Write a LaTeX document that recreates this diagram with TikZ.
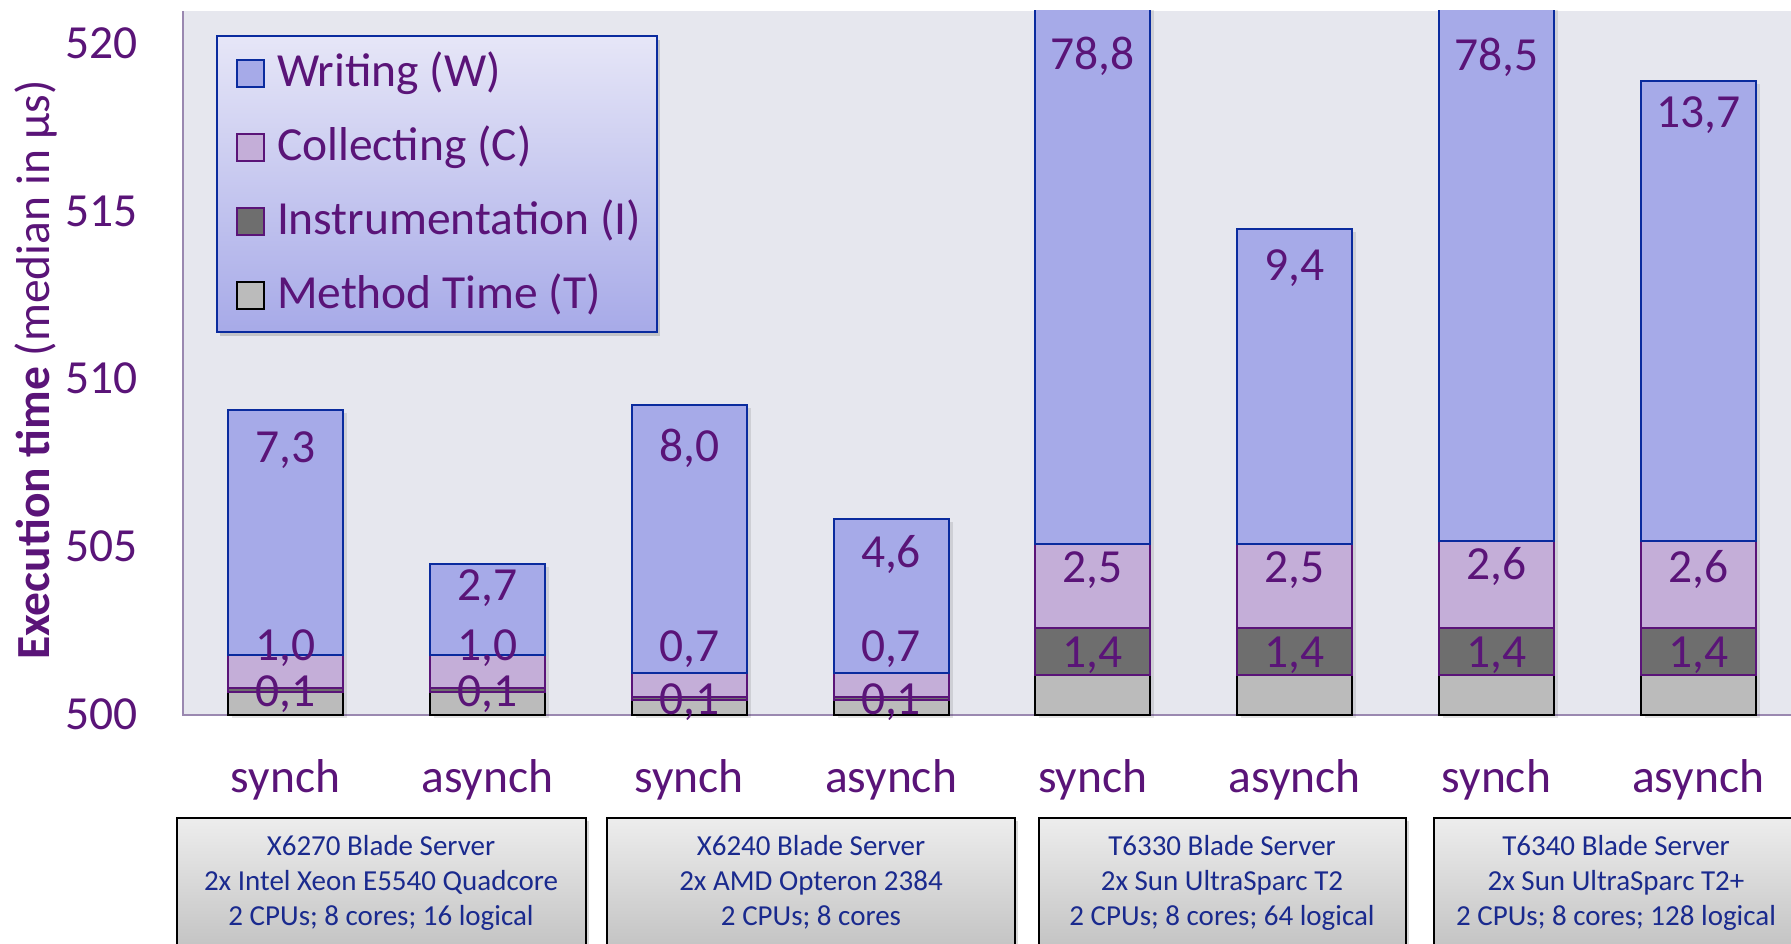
\documentclass[tikz,border=0pt]{standalone}
\usepackage{fontspec}
\setmainfont{Carlito}
\usetikzlibrary{shadows}
\definecolor{ptxt}{HTML}{5A1478}
\definecolor{ntxt}{HTML}{1A2A8E}
\definecolor{wfill}{HTML}{A6AAE8}
\definecolor{wline}{HTML}{0A2B9E}
\definecolor{cfill}{HTML}{C4AED8}
\definecolor{cline}{HTML}{5A1478}
\definecolor{ifill}{HTML}{6E6E6E}
\definecolor{tfill}{HTML}{BBBBBB}
\definecolor{plotbg}{HTML}{E6E7EE}
\definecolor{axisc}{HTML}{9A88B0}
\definecolor{legtop}{HTML}{E6E6F7}
\definecolor{legbot}{HTML}{A7AAE8}
\definecolor{srvtop}{HTML}{EDEDED}
\definecolor{srvbot}{HTML}{BDBDBD}
\tikzset{
 bigtxt/.style={text=ptxt, font=\fontsize{47.5}{57}\selectfont, inner sep=0pt, outer sep=0pt},
 srvtxt/.style={text=ntxt, font=\fontsize{29}{35}\selectfont, inner sep=0pt, anchor=base},
 tseg/.style={fill=tfill, draw=black, line width=2pt},
 iseg/.style={fill=ifill, draw=cline, line width=2pt},
 cseg/.style={fill=cfill, draw=cline, line width=2pt},
 wseg/.style={fill=wfill, draw=wline, line width=2pt},
 barshadow/.style={fill=black, opacity=0.10},
 legsq/.style={minimum size=27pt, inner sep=0pt, outer sep=0pt, line width=2pt},
 srvbox/.style={draw=black, line width=2pt, top color=srvtop, bottom color=srvbot, anchor=north west, minimum height=150pt, inner sep=0pt, outer sep=0pt, drop shadow={shadow xshift=3pt, shadow yshift=-3pt, opacity=0.3}},
}
\begin{document}
\begin{tikzpicture}[x=1pt,y=1pt]
\useasboundingbox (0,0) rectangle (1791,943);
% plot area
\fill[plotbg] (183,228) rectangle (1791,932);
\draw[axisc, line width=2pt] (183,932) -- (183,228) -- (1791,228);
% bars
\begin{scope}
\clip (182,200) rectangle (1791,932);
\begin{scope}[shift={(0,228)}, y=33.55pt]
\foreach \x/\t/\i/\c/\w in {285.6/.7/.8/1.8/9.1, 487.4/.7/.8/1.8/4.5, 689.2/.45/.55/1.25/9.25, 891.0/.45/.55/1.25/5.85, 1092.8/1.2/2.6/5.1/83.9, 1294.6/1.2/2.6/5.1/14.5, 1496.4/1.2/2.6/5.2/83.7, 1698.2/1.2/2.6/5.2/18.9}{
  \fill[barshadow, xshift=4pt, yshift=-3pt] (\x-57.5,0) rectangle (\x+57.5,\w);
  \filldraw[tseg] (\x-57.5,0) rectangle (\x+57.5,\t);
  \filldraw[iseg] (\x-57.5,\t) rectangle (\x+57.5,\i);
  \filldraw[cseg] (\x-57.5,\i) rectangle (\x+57.5,\c);
  \filldraw[wseg] (\x-57.5,\c) rectangle (\x+57.5,\w);
}
\end{scope}
\end{scope}
% value labels
\foreach \x/\wl/\wy/\cl/\cy/\il/\iy [count=\n] in {
 285.6/{7,3}/447.6/{1,0}/645.5/{0,1}/691.7,
 487.4/{2,7}/586/{1,0}/645.5/{0,1}/691.7,
 689.2/{8,0}/446.6/{0,7}/646.5/{0,1}/699,
 891.0/{4,6}/552.8/{0,7}/646.5/{0,1}/699,
 1092.8/{78,8}/55/{2,5}/568/{1,4}/652.5,
 1294.6/{9,4}/265.8/{2,5}/568/{1,4}/652.5,
 1496.4/{78,5}/56/{2,6}/565/{1,4}/652.5,
 1698.2/{13,7}/113/{2,6}/568/{1,4}/652.5}{
  \node[bigtxt, anchor=base] (lw\n) at (\x,928-\wy) {\wl};
  \node[bigtxt, anchor=base] (lc\n) at (\x,928-\cy) {\cl};
  \node[bigtxt, anchor=base] (li\n) at (\x,928-\iy) {\il};
}
% y tick labels
\foreach \v/\b in {520/884, 515/716.4, 510/549, 505/381, 500/213}{
  \node[bigtxt, anchor=base east] (tick\v) at (138,\b) {\v};
}
% y axis title
\node[bigtxt, anchor=base, rotate=90] (ytitle) at (49.5,573) {\textbf{Execution time} (median in µs)};
% category labels
\foreach \x/\lab [count=\n] in {285.6/synch, 487.4/asynch, 689.2/synch, 891.0/asynch, 1092.8/synch, 1294.6/asynch, 1496.4/synch, 1698.2/asynch}{
  \node[bigtxt, anchor=base] (cat\n) at (\x,150.5) {\lab};
}
% legend
\node[draw=wline, line width=2pt, top color=legtop, bottom color=legbot, anchor=south west, minimum width=440pt, minimum height=295.5pt, inner sep=0pt, outer sep=0pt, drop shadow={shadow xshift=3pt, shadow yshift=-4pt, opacity=0.35}] (legend) at (217,611) {};
\node[legsq, fill=wfill, draw=wline] (sqW) at (250,869.3) {};
\node[legsq, fill=cfill, draw=cline] (sqC) at (250,795.3) {};
\node[legsq, fill=ifill, draw=cline] (sqI) at (250,721.3) {};
\node[legsq, fill=tfill, draw=black] (sqT) at (250,647.3) {};
\node[bigtxt, anchor=base west] (ltW) at (277,856.3) {Writing (W)};
\node[bigtxt, anchor=base west] (ltC) at (277,782.3) {Collecting (C)};
\node[bigtxt, anchor=base west] (ltI) at (277,708.3) {Instrumentation (I)};
\node[bigtxt, anchor=base west] (ltT) at (277,634.3) {Method Time (T)};
% server boxes
\node[srvbox, minimum width=408.5pt] (srv1) at (177,125) {};
\node[srvbox, minimum width=408.5pt] (srv2) at (606.5,125) {};
\node[srvbox, minimum width=366.7pt] (srv3) at (1039,125) {};
\node[srvbox, minimum width=364pt] (srv4) at (1434,125) {};
\node[srvtxt] (s1a) at (381,88) {X6270 Blade Server};
\node[srvtxt] (s1b) at (381,52.3) {2x Intel Xeon E5540 Quadcore};
\node[srvtxt] (s1c) at (381,17.3) {2 CPUs; 8 cores; 16 logical};
\node[srvtxt] (s2a) at (811,88) {X6240 Blade Server};
\node[srvtxt] (s2b) at (811,52.3) {2x AMD Opteron 2384};
\node[srvtxt] (s2c) at (811,17.3) {2 CPUs; 8 cores};
\node[srvtxt] (s3a) at (1222,88) {T6330 Blade Server};
\node[srvtxt] (s3b) at (1222,52.3) {2x Sun UltraSparc T2};
\node[srvtxt] (s3c) at (1222,17.3) {2 CPUs; 8 cores; 64 logical};
\node[srvtxt] (s4a) at (1616,88) {T6340 Blade Server};
\node[srvtxt] (s4b) at (1616,52.3) {2x Sun UltraSparc T2+};
\node[srvtxt] (s4c) at (1616,17.3) {2 CPUs; 8 cores; 128 logical};
\end{tikzpicture}
\end{document}
